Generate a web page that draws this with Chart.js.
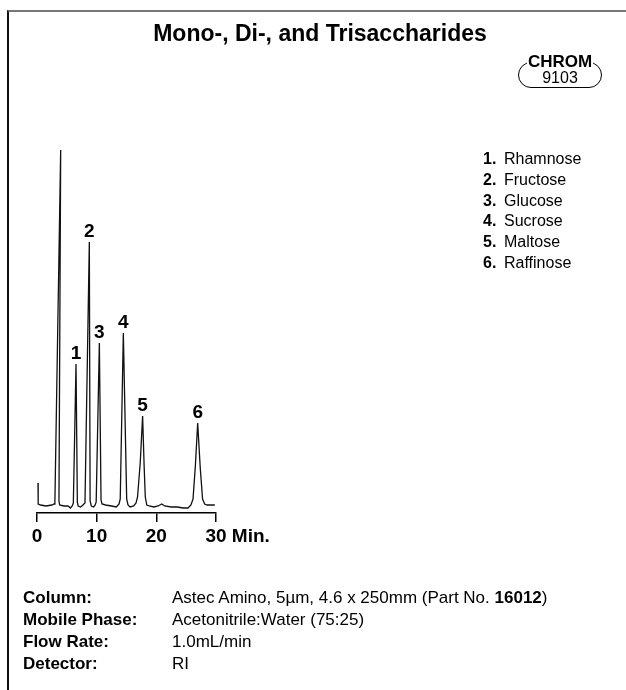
<!DOCTYPE html>
<html>
<head>
<meta charset="utf-8">
<script src="https://cdn.jsdelivr.net/npm/chart.js@4/dist/chart.umd.min.js"></script>
<style>
  html, body { margin: 0; padding: 0; background: #fff; }
  body { width: 626px; height: 690px; position: relative; overflow: hidden;
         font-family: 'Liberation Sans', Arial, sans-serif; color: #000; }
  #frame { position: absolute; left: 7px; top: 10px; right: 0; bottom: -5px;
           border-top: 2px solid #777; border-left: 2px solid #111; }
  #chart { position: absolute; left: 0; top: 0; }
  .title { position: absolute; left: 0; width: 640px; top: 22px; text-align: center;
           font-size: 23px; font-weight: bold; line-height: 1; }
  .badge { position: absolute; left: 518px; top: 62px; width: 82px; height: 24px;
           border: 1.4px solid #000; border-radius: 13px; }
  .badge .top { position: absolute; left: 0; right: 0; top: -10px; text-align: center; }
  .badge .top span { background: #fff; padding: 0 1px; font-size: 17px; font-weight: bold; line-height: 1; }
  .badge .num { position: absolute; left: 0; right: 0; top: 7px; text-align: center;
                font-size: 16px; line-height: 1; }
  .legend { position: absolute; left: 483px; top: 149px; font-size: 16px; line-height: 20.8px; }
  .legend b { display: inline-block; width: 21px; }
  .info { position: absolute; left: 23px; top: 587px; font-size: 17px; line-height: 22px; }
  .info div { white-space: nowrap; }
  .info .k { display: inline-block; width: 149px; font-weight: bold; }
</style>
</head>
<body>
<div id="frame"></div>
<canvas id="chart" width="626" height="690"></canvas>
<div class="title">Mono-, Di-, and Trisaccharides</div>
<div class="badge"><div class="top"><span>CHROM</span></div><div class="num">9103</div></div>
<div class="legend" id="legend"></div>
<div class="info">
  <div><span class="k">Column:</span>Astec Amino, 5µm, 4.6 x 250mm (Part No. <b>16012</b>)</div>
  <div><span class="k">Mobile Phase:</span>Acetonitrile:Water (75:25)</div>
  <div><span class="k">Flow Rate:</span>1.0mL/min</div>
  <div><span class="k">Detector:</span>RI</div>
</div>
<script>
// detector trace (time in min, signal in arbitrary units)
const times = [0.17, 0.2, 0.6, 1.5, 2.5, 2.85, 3.0, 3.97, 3.68, 3.8, 4.5, 5.2, 5.6, 5.9,
  6.09, 6.54, 6.76, 6.9, 7.3, 7.7,
  8.04, 8.77, 8.9, 9.1, 9.5, 9.75,
  9.92, 10.45, 10.73, 10.9, 11.5, 12.5, 13.3, 13.75,
  13.95, 14.47, 15.03, 15.25, 15.6, 16.2, 16.6,
  16.85, 17.3, 17.7, 17.95, 18.15, 18.4, 18.8, 19.6, 20.3, 20.9, 21.4, 22.5, 23.5, 24.5, 25.3, 25.8,
  26.15, 26.55, 26.93, 27.35, 27.75, 28.1, 28.5, 29.8];
const signal = [22, 1, 0, -1, 0, 1, 3, 355, 4, 0, -1, -1, -3, -1,
  2, 141, 3, -1, -2, 0,
  2, 263, 4, -1, -2, 0,
  3, 162, 5, 1, 0, -1, -2, 1,
  6, 172, 6, 0, -2, -1, 2,
  8, 42, 89, 40, 8, 0, -1, -2, -1, 1, -1, -2, -2, -3, -3, 0,
  6, 40, 82, 38, 6, 1, 0, 0];

const peakNames = ['Rhamnose', 'Fructose', 'Glucose', 'Sucrose', 'Maltose', 'Raffinose'];
const peakTimes = [6.54, 8.77, 10.45, 14.47, 17.7, 26.93];
const peakHeights = [141, 263, 162, 172, 89, 82];
const xTicks = [0, 10, 20, 30];

const FONT = "'Liberation Sans', Arial, sans-serif";

document.getElementById('legend').innerHTML = peakNames
  .map((n, i) => '<div><b>' + (i + 1) + '.</b>' + n + '</div>').join('');

// peak numbers above each peak, plus the "Min." after the last tick
const peakLabels = {
  id: 'peakLabels',
  afterDatasetsDraw(chart) {
    const { ctx, scales: { x, y } } = chart;
    ctx.save();
    ctx.fillStyle = '#000';
    ctx.font = 'bold 19px ' + FONT;
    ctx.textAlign = 'center';
    ctx.textBaseline = 'alphabetic';
    peakTimes.forEach((t, i) => {
      ctx.fillText(String(i + 1), x.getPixelForValue(t), y.getPixelForValue(peakHeights[i]) - 5);
    });
    ctx.restore();
  },
  afterDraw(chart) {
    const { ctx, scales: { x } } = chart;
    const o = x.options;
    const size = o.ticks.font.size;
    const last = xTicks[xTicks.length - 1];
    ctx.save();
    ctx.font = 'bold ' + size + 'px ' + FONT;
    ctx.fillStyle = '#000';
    ctx.textAlign = 'left';
    ctx.textBaseline = 'middle';
    const px = x.getPixelForValue(last) + ctx.measureText(String(last)).width / 2;
    const py = x.top + o.grid.tickLength + o.ticks.padding + size * 1.2 / 2;
    ctx.fillText(' Min.', px, py);
    ctx.restore();
  }
};

new Chart(document.getElementById('chart'), {
  type: 'line',
  data: {
    datasets: [{
      data: times.map((t, i) => ({ x: t, y: signal[i] })),
      borderColor: '#111',
      borderWidth: 1.3,
      pointRadius: 0,
      tension: 0,
      fill: false,
      clip: false
    }]
  },
  options: {
    responsive: false,
    animation: false,
    devicePixelRatio: 1,
    layout: { padding: { left: 37, right: 410, top: 140, bottom: 132 } },
    plugins: { legend: { display: false }, tooltip: { enabled: false } },
    scales: {
      x: {
        type: 'linear',
        min: 0,
        max: 30,
        afterBuildTicks: s => { s.ticks = xTicks.map(v => ({ value: v })); },
        afterFit: s => { s.height = 45; },
        grid: { display: true, drawOnChartArea: false, drawTicks: true, tickLength: 9, color: '#000', lineWidth: 1.5 },
        border: { display: true, color: '#000', width: 1.5 },
        ticks: { color: '#000', padding: 3, maxRotation: 0, autoSkip: false,
                 font: { family: FONT, size: 19, weight: 'bold' } }
      },
      y: { display: false, min: -8, max: 365 }
    }
  },
  plugins: [peakLabels]
});
</script>
</body>
</html>
